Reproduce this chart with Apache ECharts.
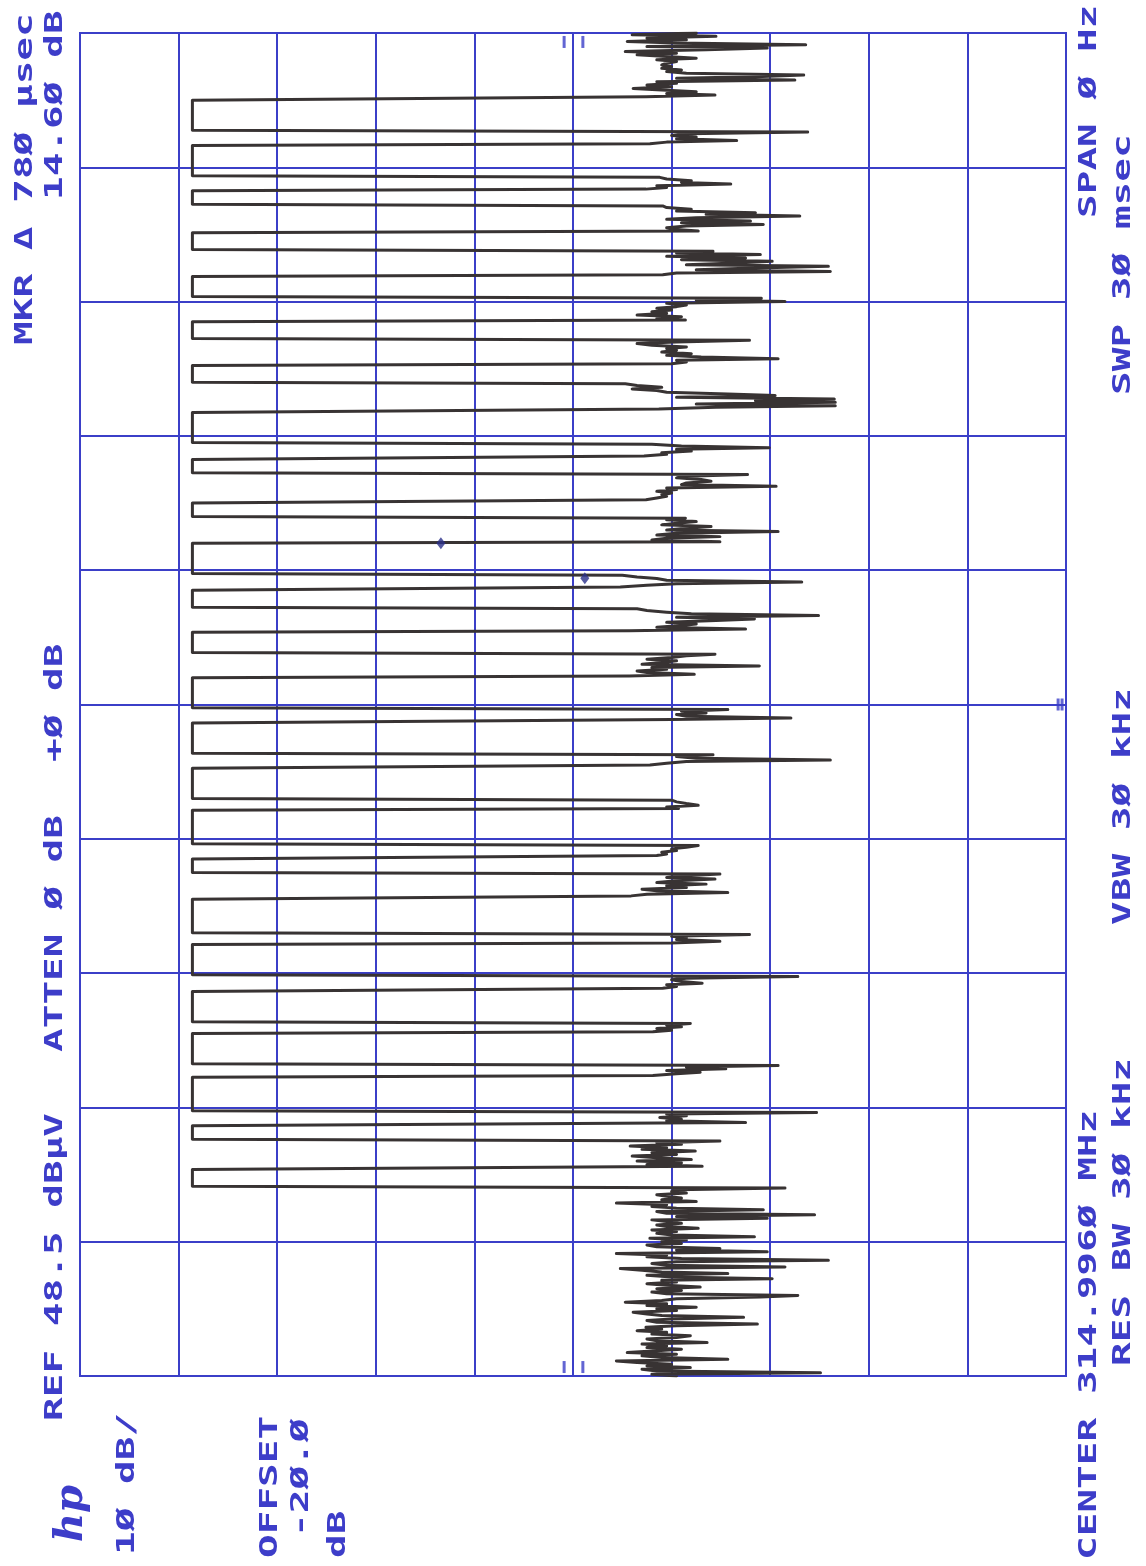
<!DOCTYPE html>
<html><head><meta charset="utf-8">
<script src="https://cdn.jsdelivr.net/npm/echarts@6/dist/echarts.min.js"></script>
<style>html,body{margin:0;padding:0;background:#fff}#c{width:1146px;height:1566px}</style>
</head><body><div id="c"></div>
<script>
// ---- instrument settings ----
const refLevel = 48.5;        // dBuV, left edge
const dbPerDiv = 10;
const sweepMs = 30;           // zero span sweep
const tracePoints = 801;

// ---- trace: alternating noise gaps and pulse plateaus (time order, bottom -> top) ----
const pulseLevel = 37.1;      // dBuV
const pulseWidths = [12,10,21,19,20,19,22,10,21,20,20,19,13,12,19,10,10,20,11,11,13,11,9,19,20]; // samples
const noiseGaps = [
  [-12.0,-9.5,-26.6,-10.0,-8.5,-13.4,-9.0,-11.5,-8.0,-5.9,-17.2,-10.5,-8.5,-12.0,-7.0,-10.0,-12.5,-9.0,-11.0,-8.5,
   -15.1,-10.0,-9.0,-12.0,-13.4,-9.5,-11.0,-8.0,-10.5,-8.9,-12.0,-20.2,-10.0,-9.0,-11.5,-18.8,-10.5,-9.0,-7.6,-12.0,
   -10.0,-14.0,-9.0,-11.0,-6.8,-10.5,-12.0,-20.5,-24.3,-11.0,-9.5,-12.5,-10.0,-14.4,-11.0,-9.0,-12.0,-10.5,-21.7,-11.5,
   -9.0,-17.2,-10.5,-8.5,-6.3,-23.0,-11.0,-9.5,-12.0,-27.4,-12.5,-9.0,-11.0,-5.9,-21.2,-12.0,-16.4,-10.0,-9.0,-12.5,
   -10.5,-13.0,-9.3,-19.9,-11.5,-10.0,-12.0,-9.5,-14.2,-11.0,-10.0,-12.5,-11.0,-9.5,-21.2,-12.0,-26.0,-11.0,-10.0,-20.8,
   -12.0,-9.5,-11.0,-5.9,-14.0,-10.5,-12.5,-11.0,-10.0,-13.0,-11.5,-12.0,-23.0],
  [-14.6,-9.0,-12.5,-8.0,-13.5,-10.0,-7.5,-12.0,-9.5,-13.9,-8.5,-11.0,-7.3,-12.5,-10.0,-16.4],
  [-19.0,-11.0,-12.5,-10.3,-13.0,-11.0,-26.2],
  [-9.6,-12.0,-14.4,-11.0,-17.0,-13.0,-22.3],
  [-9.6,-11.5,-10.0,-12.5,-11.0,-13.4],
  [-10.6,-12.0,-11.0,-14.6,-12.5,-11.5,-13.0,-24.3],
  [-11.5,-16.4,-12.0,-13.0,-11.5,-19.4],
  [-7.4,-9.0,-17.2,-10.0,-8.5,-13.0,-11.0,-15.0,-10.0,-12.0,-15.9,-11.0,-13.0,-16.4],
  [-10.0,-11.0,-10.5,-12.0,-11.5,-13.0,-14.2],
  [-12.2,-11.0,-14.2,-13.0,-12.0,-11.5],
  [-9.3,-11.0,-13.0,-27.6,-14.0,-12.0,-15.7],
  [-11.5,-23.6,-13.0,-12.0,-15.0,-12.5,-17.2],
  [-7.2,-13.8,-9.0,-8.0,-11.0,-9.5,-20.4,-8.5,-10.5,-12.0,-9.0,-11.5,-13.0,-15.9],
  [-7.2,-19.0,-10.0,-12.5,-14.0,-11.0,-16.0,-19.9,-12.0,-26.4,-13.5,-11.0,-9.0,-8.0],
  [-6.3,-9.0,-12.0,-24.7,-11.0,-10.0,-8.0,-6.5],
  [-16.4,-9.5,-11.0,-16.4,-10.0,-12.0,-22.3,-11.0,-13.0,-15.5,-10.5,-12.0,-14.0,-11.0,-12.9],
  [-8.9,-10.0,-11.0,-10.5,-11.5,-10.0,-12.0,-11.0,-22.1,-12.5,-13.0,-15.5,-14.5,-12.0,-13.0,-19.2],
  [-8.7,-11.0,-10.5,-13.5,-12.0,-21.4,-12.5,-9.5],
  [-10.2,-16.0,-28.1,-14.0,-28.1,-20.0,-28.0,-12.0,-22.0,-17.2,-11.0,-10.0,-7.5,-10.5,-8.0,-6.8],
  [-11.5,-13.0,-12.0,-22.3,-14.5,-11.0,-13.5,-10.5,-12.0,-11.0,-13.0,-9.5,-8.0,-12.0,-19.4],
  [-12.9,-10.0,-12.5,-8.0,-11.0,-9.5,-11.5,-10.0,-12.0,-13.0,-11.0,-23.0,-14.0,-20.6],
  [-10.6,-12.0,-27.6,-14.0,-20.0,-27.4,-13.0,-18.0,-21.7,-12.5,-19.0,-11.0,-20.5,-12.0,-15.7],
  [-14.2,-12.0,-11.0,-13.0,-20.8,-12.5,-19.5,-11.0,-14.0,-24.5,-15.0,-20.0,-12.0,-13.5,-11.0,-10.6],
  [-8.9,-11.0,-10.0,-17.5,-12.5,-13.5,-11.0,-10.3],
  [-9.3,-11.0,-18.1,-12.0,-14.0,-11.5,-13.0,-25.3],
  [-8.9,-15.9,-11.0,-14.0,-10.5,-7.6,-11.5,-9.0,-12.0,-10.0,-24.0,-12.0,-20.0,-24.9,-13.0,-11.0,-12.5,-10.5,-11.5,-10.5,
   -11.0,-12.0,-10.0,-14.0,-11.0,-8.0,-12.0,-6.8,-15.0,-21.2,-9.0,-25.1,-12.0,-7.0,-13.0,-9.0,-16.0,-7.5,-14.0]
];

// ---- markers (dBuV, ms) ----
const markerPoints = [[11.9, 18.60], [-2.7, 17.82]];
// ---- short reference ticks on the frame (dBuV, ms) ----
const edgeTicks = [[-0.6, 29.8], [-2.5, 29.8], [-0.6, 0.2], [-2.5, 0.2]];
const sideTicks = [[-50.7, 15.0], [-51.1, 15.0]];

// ---- annotation texts ----
const leftTexts  = [
  {t: 'MKR \u0394 78\u00D8 \u03BCsec', col: 0, y: 345},
  {t: '14.6\u00D8 dB', col: 1, y: 200},
  {t: '+\u00D8 dB', col: 1, y: 762},
  {t: 'ATTEN \u00D8 dB', col: 1, y: 1052},
  {t: 'REF 48.5 dB\u03BCV', col: 1, y: 1421}
];
const rightTexts = [
  {t: 'SPAN \u00D8 Hz', col: 0, y: 218},
  {t: 'SWP 3\u00D8 msec', col: 1, y: 395},
  {t: 'VBW 3\u00D8 kHz', col: 1, y: 925},
  {t: 'CENTER 314.996\u00D8 MHz', col: 0, y: 1560},
  {t: 'RES BW 3\u00D8 kHz', col: 1, y: 1366}
];
const bottomTexts = [
  {t: '1\u00D8 dB/', x: 128, y: 1555},
  {t: 'OFFSET', x: 271, y: 1558},
  {t: '-2\u00D8.\u00D8', x: 302, y: 1537},
  {t: 'dB', x: 339, y: 1558}
];

// ---- build series data ----
const trace = [];
let idx = 0;
function pushSample(v) {
  trace.push([v - refLevel, idx * sweepMs / (tracePoints - 1)]);
  idx++;
}
for (let k = 0; k < noiseGaps.length; k++) {
  noiseGaps[k].forEach(pushSample);
  if (k < pulseWidths.length) for (let j = 0; j < pulseWidths[k]; j++) pushSample(pulseLevel);
}
const rel = p => [p[0] - refLevel, p[1]];

const BLUE = '#3b3fc8';
const TXT = '#3d3dc9';
const FONT = 'bold 24px "DejaVu Sans Mono"';
const SX = 1.64;
const leftCols = [26, 56], rightCols = [1090, 1124];
const graphics = [];
function addText(t, x, y, font, sx) {
  graphics.push({type: 'text', x: x, y: y, rotation: Math.PI / 2, scaleX: sx, z: 100,
    style: {text: t, font: font, fill: TXT, textAlign: 'left', textVerticalAlign: 'middle'}});
}
leftTexts.forEach(o => addText(o.t, leftCols[o.col], o.y, FONT, SX));
rightTexts.forEach(o => addText(o.t, rightCols[o.col], o.y, FONT, SX));
bottomTexts.forEach(o => addText(o.t, o.x, o.y, FONT, SX));
addText('hp', 72, 1542, 'italic bold 40px "DejaVu Serif"', 1.0);

const chart = echarts.init(document.getElementById('c'), null, {renderer: 'canvas'});
chart.setOption({
  animation: false,
  backgroundColor: '#ffffff',
  grid: {left: 80, right: 80, top: 33, bottom: 190, show: true, borderColor: BLUE, borderWidth: 2},
  xAxis: {type: 'value', inverse: true, min: -10 * dbPerDiv, max: 0, interval: dbPerDiv,
    axisLabel: {show: false}, axisTick: {show: false}, axisLine: {show: false},
    splitLine: {show: true, lineStyle: {color: BLUE, width: 2}}},
  yAxis: {type: 'value', min: 0, max: sweepMs, interval: sweepMs / 10,
    axisLabel: {show: false}, axisTick: {show: false}, axisLine: {show: false},
    splitLine: {show: true, lineStyle: {color: BLUE, width: 2}}},
  series: [
    {type: 'line', data: trace, showSymbol: false, symbol: 'none', z: 5,
     lineStyle: {color: '#383333', width: 3, join: 'round', cap: 'round'}},
    {type: 'scatter', data: markerPoints.map(rel), symbol: 'diamond', symbolSize: [9, 12], z: 6,
     itemStyle: {color: '#2a2f8a'}},
    {type: 'scatter', data: edgeTicks.concat(sideTicks).map(rel), symbol: 'rect', symbolSize: [3, 12], z: 6,
     itemStyle: {color: BLUE}}
  ],
  graphic: graphics
});
</script></body></html>
